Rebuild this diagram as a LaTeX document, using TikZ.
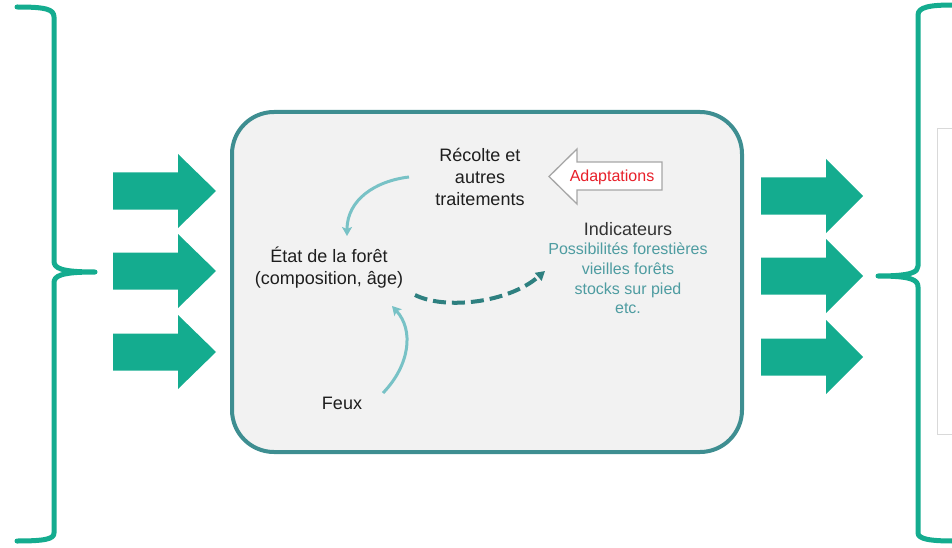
\documentclass[tikz,border=0pt]{standalone}
\usepackage{fontspec}
\setmainfont{Liberation Sans}
\usetikzlibrary{arrows.meta}
\definecolor{braceteal}{HTML}{14AC8F}
\definecolor{boxteal}{HTML}{3E8E91}
\definecolor{lightteal}{HTML}{78C2C6}
\definecolor{darkteal}{HTML}{2E8080}
\definecolor{indteal}{HTML}{4E9CA1}
\definecolor{boxfill}{HTML}{F2F2F2}
\definecolor{adred}{HTML}{E8202A}
\definecolor{txt}{HTML}{1E1E1E}
\tikzset{
  bracestyle/.style={draw=braceteal,line width=5pt,line cap=round,line join=round},
  fatarrow/.style={fill=braceteal,draw=none},
  lightarrow/.style={draw=lightteal,line width=3pt,-{Stealth[length=9pt,width=10pt,inset=2pt]}},
  dasharrow/.style={draw=darkteal,line width=4pt,dash pattern=on 13pt off 6pt,-{Triangle[length=9pt,width=10pt]}},
  lbl/.style={align=center,inner sep=0pt,text=txt,font=\fontsize{18}{21.7}\selectfont},
}
\begin{document}
\begin{tikzpicture}[x=1pt,y=-1pt]
\useasboundingbox (0,0) rectangle (952,548);
% left brace
\draw[bracestyle] (17,7) .. controls (45,7) and (54,9) .. (54,17) -- (54,261)
  .. controls (54,268) and (60,272) .. (95,272)
  .. controls (60,272) and (54,276) .. (54,283) -- (54,533)
  .. controls (54,539) and (45,541) .. (17,541);
% right brace
\draw[bracestyle] (953,5) .. controls (930,5) and (918,7) .. (918,15) -- (918,266)
  .. controls (918,272) and (912,276) .. (878,276)
  .. controls (912,276) and (918,280) .. (918,287) -- (918,533)
  .. controls (918,539) and (930,541) .. (953,541);
% right gray panel
\draw[draw=black!15,fill=white,line width=1pt] (937,129) rectangle (960,434);
% fat arrows
\foreach \yy in {191,271,352}{
  \fill[fatarrow] (113,\yy-18.5) -- (178,\yy-18.5) -- (178,\yy-37) -- (216,\yy)
     -- (178,\yy+37) -- (178,\yy+18.5) -- (113,\yy+18.5) -- cycle;
}
\foreach \yy in {196,276,357}{
  \fill[fatarrow] (761,\yy-18.5) -- (826,\yy-18.5) -- (826,\yy-37) -- (863,\yy)
     -- (826,\yy+37) -- (826,\yy+18.5) -- (761,\yy+18.5) -- cycle;
}
% main box
\draw[draw=boxteal,fill=boxfill,line width=4pt,rounded corners=42pt] (232,112) rectangle (742,452);
% adaptations arrow
\draw[draw=black!35,fill=white,line width=1.3pt,line join=miter]
  (549,176.5) -- (577,149) -- (577,162) -- (662,162) -- (662,190) -- (577,190) -- (577,204) -- cycle;
\node[inner sep=0pt,font=\fontsize{16}{19}\selectfont,text=adred] (adapt) at (612,177) {Adaptations};
% text nodes
\node[lbl] (recolte) at (480,177) {Récolte et\\autres\\traitements};
\node[lbl,font=\fontsize{18}{22}\selectfont] (etat) at (329,268) {État de la forêt\\(composition, âge)};
\node[lbl] (feux) at (342,403) {Feux};
\node[lbl,text=black!80] (indic) at (628,229) {Indicateurs};
\node[lbl,font=\fontsize{16}{19.7}\selectfont,text=indteal] (indlist) at (628,278.5)
  {Possibilités forestières\\vieilles forêts\\stocks sur pied\\etc.};
% connector end points
\coordinate (c1s) at (409,177);
\coordinate (c1e) at (347,236);
\coordinate (c2s) at (383,393);
\coordinate (c2e) at (392,306);
\coordinate (c3s) at (415,295);
\coordinate (c3e) at (545,271);
\draw[lightarrow] (c1s) .. controls (375,181) and (347,200) .. (c1e);
\draw[lightarrow] (c2s) .. controls (410,365) and (414,330) .. (c2e);
\draw[dasharrow] (c3s) .. controls (445,310) and (508,303) .. (c3e);
\end{tikzpicture}
\end{document}
